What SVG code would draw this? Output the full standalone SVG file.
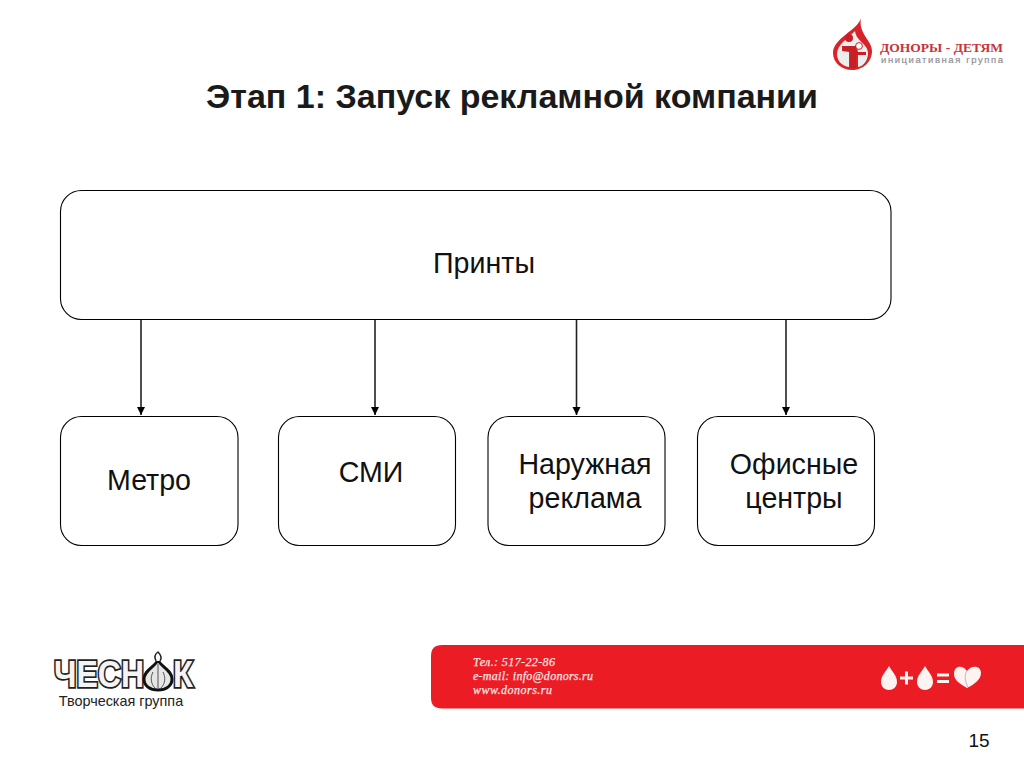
<svg xmlns="http://www.w3.org/2000/svg" width="1024" height="768" viewBox="0 0 1024 768">
<defs>
<style>
.t{font-family:"Liberation Sans",Arial,sans-serif;fill:#000;text-anchor:middle}
.l{font-size:28.6px;fill:#111}
.box{fill:#fff;stroke:#000;stroke-width:1.1}
.conn{stroke:#222;stroke-width:1.6;fill:none;marker-end:url(#a)}
.c{font-family:"Liberation Serif",serif;font-style:italic;font-size:12px;fill:#fbe4e4;stroke:#fbe4e4;stroke-width:.25}
.w{fill:#fdf3f0}
.ch{font-family:"Liberation Sans",sans-serif;font-weight:bold;font-size:36px;fill:#f4f4f4;stroke:#222;stroke-width:3.5;paint-order:stroke}
</style>
<marker id="a" markerUnits="userSpaceOnUse" markerWidth="9" markerHeight="9" refX="8" refY="4" orient="auto"><path d="M0 0L8 4L0 8Z" fill="#000"/></marker>
</defs>
<rect width="1024" height="768" fill="#fff"/>
<text class="t" x="512" y="108" font-size="34" font-weight="bold" style="fill:#1a1a1a">Этап 1: Запуск рекламной компании</text>

<g id="logo-donors">
<path d="M861 18C858 30 833 38 833 53C833 63 842 70 852 70C863 70 872 62 872 51C872 40 858 34 861 18Z" fill="#d9232a"/>
<path d="M855 31C848 38 837 45 837 54C837 61 842 66 849 67L849 52L842 51L842 46L857 46L858 52L858 67C864 66 868 60 868 53C868 44 856 41 855 31Z" fill="#eceeee"/>
<circle cx="849" cy="38" r="4" fill="#c81e26"/><circle cx="859" cy="46" r="3.400" fill="#fff" stroke="#c81e26" stroke-width="1"/>
<path d="M843 46H856V68H850V51H843ZM856 52H866V55H856Z" fill="#c81e26"/>
<text x="880" y="52" font-family="Liberation Serif,serif" font-weight="bold" font-size="13.200" fill="#c8343a" textLength="123" lengthAdjust="spacingAndGlyphs">ДОНОРЫ - ДЕТЯМ</text>
<text x="881" y="63" font-family="Liberation Sans,sans-serif" font-size="9.500" fill="#8f8f95" stroke="#8f8f95" stroke-width=".2" textLength="122">инициативная группа</text>
</g>

<g id="connectors">
<path class="conn" d="M141 320V415"/>
<path class="conn" d="M375 320V415"/>
<path class="conn" d="M576.500 320V415"/>
<path class="conn" d="M786 320V415"/>
</g>

<g id="node-prints"><rect class="box" x="60.500" y="190.500" width="830.500" height="129" rx="21"/><text class="t l" x="484" y="273">Принты</text></g>
<g id="node-metro"><rect class="box" x="60.500" y="416.500" width="177.500" height="129" rx="21"/><text class="t l" x="149" y="490">Метро</text></g>
<g id="node-smi"><rect class="box" x="278.500" y="416.500" width="177" height="129" rx="21"/><text class="t l" x="371" y="482">СМИ</text></g>
<g id="node-outdoor"><rect class="box" x="488" y="416.500" width="177" height="129" rx="21"/><text class="t l" x="585" y="474">Наружная</text><text class="t l" x="585" y="508">реклама</text></g>
<g id="node-offices"><rect class="box" x="697.500" y="416.500" width="177" height="129" rx="21"/><text class="t l" x="794" y="474">Офисные</text><text class="t l" x="794" y="508">центры</text></g>

<g id="logo-chesnok">
<text class="ch" x="54" y="687" textLength="90" lengthAdjust="spacingAndGlyphs">ЧЕСН</text>
<path d="M158 660C155 667 144 670 144 679C144 686 150 690 158 690C166 690 172 686 172 679C172 670 161 667 158 660Z" fill="#e6e6e6" stroke="#111" stroke-width="3"/>
<path d="M158 664V688M153 672C150 678 151 684 155 688M163 672C166 678 165 684 161 688" fill="none" stroke="#555" stroke-width="1"/>
<path d="M156 661C154 657 155 654 158 652C161 655 162 658 160 661" fill="#fff" stroke="#222" stroke-width="1.500"/>
<text class="ch" x="173" y="687" textLength="20" lengthAdjust="spacingAndGlyphs">К</text>
<text x="121" y="706" class="t" font-size="14.400" style="fill:#222">Творческая группа</text>
</g>

<g id="footer-band">
<path d="M1024 645H442Q431 645 431 656V698Q431 708.500 442 708.500H1024Z" fill="#ec1c24"/>
<text class="c" x="473" y="666" textLength="82">Тел.: 517-22-86</text>
<text class="c" x="473" y="680" textLength="120">e-mail: info@donors.ru</text>
<text class="c" x="473" y="694" textLength="79">www.donors.ru</text>
<path class="w" d="M889 666C886 672 881 675 881 682C881 687 885 690 889 690C893 690 897 687 897 682C897 675 892 672 889 666Z"/>
<path class="w" d="M900 676.500H905V671.500H908V676.500H913V679.500H908V684.500H905V679.500H900Z"/>
<path class="w" d="M925 666C922 672 917 675 917 682C917 687 921 690 925 690C929 690 933 687 933 682C933 675 928 672 925 666Z"/>
<path class="w" d="M937 673.500H949V676.500H937ZM937 680H949V683H937Z"/>
<path class="w" d="M967 671C963 665 954 665 954 674C954 681 962 685 967 688C973 685 981 680 981 673C981 665 971 665 967 671Z"/>
<path d="M967 671C964 675 965 682 968 687" fill="none" stroke="#b9b9b9" stroke-width="1"/>
</g>

<text id="page-number" class="t" x="979" y="747" font-size="19" style="fill:#111">15</text>
</svg>
